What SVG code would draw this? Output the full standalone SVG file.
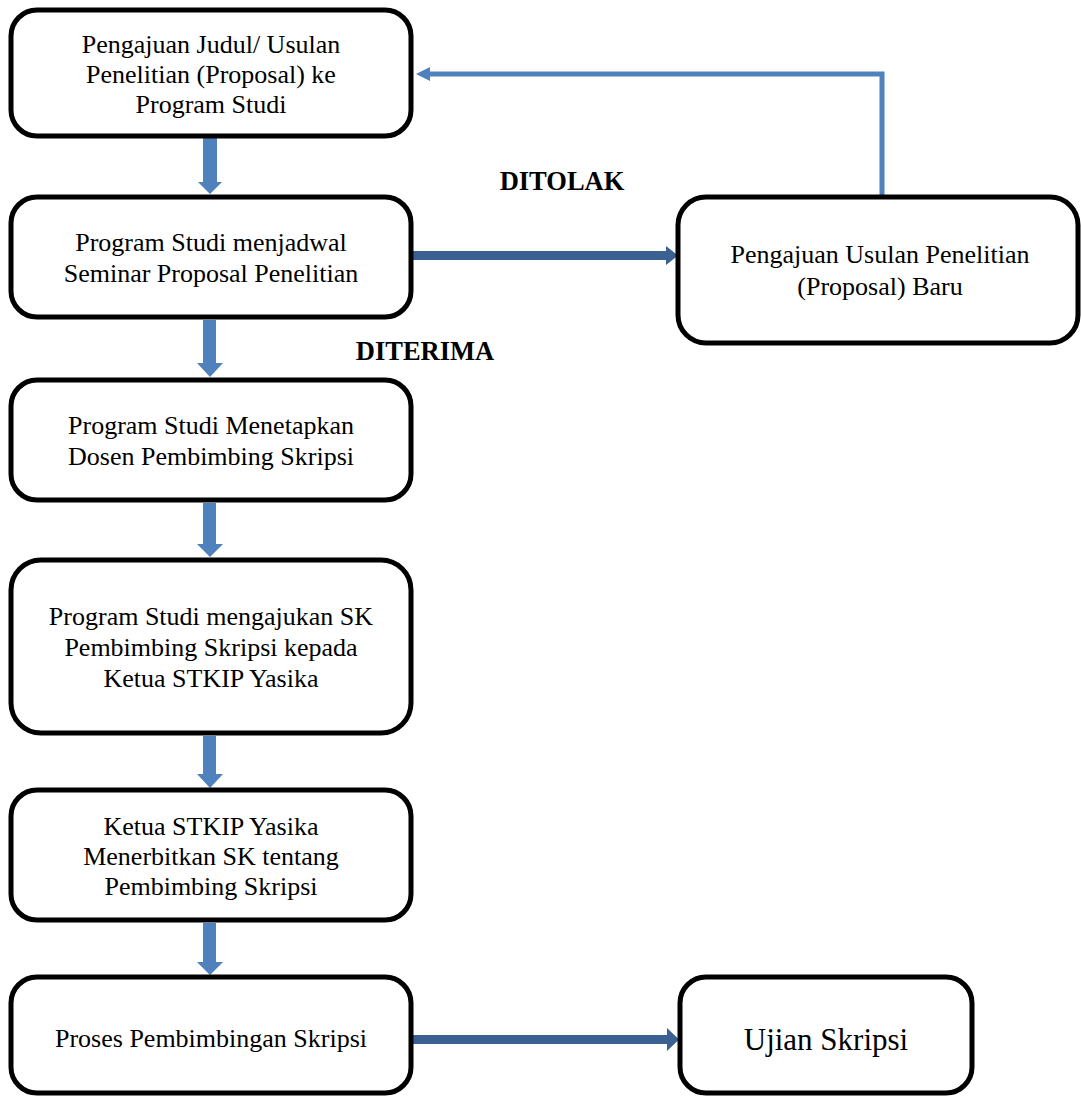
<svg xmlns="http://www.w3.org/2000/svg" width="1081" height="1096" viewBox="0 0 1081 1096">
<defs>
<style>
.box{fill:#fff;stroke:#000;stroke-width:5}
.t{font-family:'Liberation Serif','Times New Roman',serif;font-size:26px;fill:#000;text-anchor:middle}
.big{font-size:31px}
.lbl{font-family:'Liberation Serif','Times New Roman',serif;font-size:26.5px;font-weight:bold;fill:#000;text-anchor:middle}
.down{fill:#4F81BD}
.side{fill:#3B6192}
.back{fill:none;stroke:#4F81BD;stroke-width:5}
</style>
</defs>
<g id="connectors">
<path class="down" d="M203,138 H217 V182 H222 L210,194 L198,182 H203 Z"/>
<path class="down" d="M203,320 H216 V363 H223 L210,377 L197,363 H203 Z"/>
<path class="down" d="M203,503 H216 V544 H223 L210,557 L197,544 H203 Z"/>
<path class="down" d="M203,736 H216 V774 H223 L210,788 L197,774 H203 Z"/>
<path class="down" d="M203,923 H216 V962 H223 L210,975 L197,962 H203 Z"/>
<path class="side" d="M413,251 H666 V246 L678,255.5 L666,265 V260 H413 Z"/>
<path class="side" d="M413,1035 H667 V1028 L679,1039.5 L667,1051 V1044 H413 Z"/>
<path class="back" d="M882,196 V74 H426"/>
<path d="M416,74 L430,67 L430,81 Z" fill="#4F81BD"/>
</g>
<g id="n1"><rect class="box" x="11" y="10" width="400" height="126" rx="26"/>
<text class="t" x="211" y="53">Pengajuan Judul/ Usulan</text>
<text class="t" x="211" y="83">Penelitian (Proposal) ke</text>
<text class="t" x="211" y="113">Program Studi</text></g>
<g id="n2"><rect class="box" x="11" y="197" width="400" height="120" rx="26"/>
<text class="t" x="211" y="251">Program Studi menjadwal</text>
<text class="t" x="211" y="282">Seminar Proposal Penelitian</text></g>
<g id="n3"><rect class="box" x="11" y="380" width="400" height="120" rx="26"/>
<text class="t" x="211" y="434">Program Studi Menetapkan</text>
<text class="t" x="211" y="465">Dosen Pembimbing Skripsi</text></g>
<g id="n4"><rect class="box" x="11" y="560" width="400" height="173" rx="30"/>
<text class="t" x="211" y="625">Program Studi mengajukan SK</text>
<text class="t" x="211" y="656">Pembimbing Skripsi kepada</text>
<text class="t" x="211" y="687">Ketua STKIP Yasika</text></g>
<g id="n5"><rect class="box" x="11" y="790" width="400" height="130" rx="26"/>
<text class="t" x="211" y="835">Ketua STKIP Yasika</text>
<text class="t" x="211" y="865">Menerbitkan SK tentang</text>
<text class="t" x="211" y="895">Pembimbing Skripsi</text></g>
<g id="n6"><rect class="box" x="11" y="977" width="400" height="116" rx="26"/>
<text class="t" x="211" y="1047">Proses Pembimbingan Skripsi</text></g>
<g id="n7"><rect class="box" x="678" y="197" width="400" height="146" rx="28"/>
<text class="t" x="880" y="263">Pengajuan Usulan Penelitian</text>
<text class="t" x="880" y="295">(Proposal) Baru</text></g>
<g id="n8"><rect class="box" x="680" y="977" width="292" height="116" rx="26"/>
<text class="t big" x="826" y="1050">Ujian Skripsi</text></g>
<g id="labels">
<text class="lbl" x="562" y="190">DITOLAK</text>
<text class="lbl" x="425" y="360">DITERIMA</text>
</g>
</svg>
